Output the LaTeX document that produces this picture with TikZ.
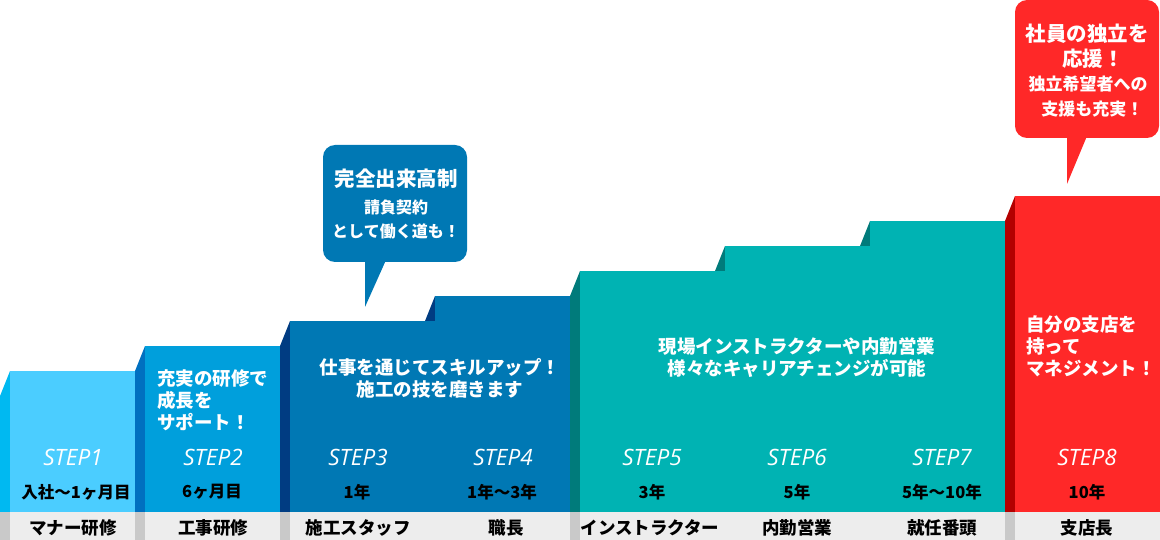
\documentclass[tikz,border=0pt]{standalone}
\usepackage{fontspec}
\setmainfont{Noto Sans CJK JP}
\newfontfamily\stepfont{Open Sans}
\usepackage{tikz}

\definecolor{skyfront}{HTML}{4BCDFF}
\definecolor{skyside}{HTML}{00B9F1}
\definecolor{bluefront}{HTML}{009FDC}
\definecolor{blueside}{HTML}{0070C0}
\definecolor{navyfront}{HTML}{0078B4}
\definecolor{navyside}{HTML}{003C82}
\definecolor{tealfront}{HTML}{00B3B3}
\definecolor{tealside}{HTML}{007B7B}
\definecolor{redfront}{HTML}{FF2828}
\definecolor{redside}{HTML}{B40000}
\definecolor{striplight}{HTML}{EDEDED}
\definecolor{stripdark}{HTML}{C9C9C9}

\begin{document}
\begin{tikzpicture}[x=1pt,y=-1pt,
    steplabel/.style={text=white,font=\stepfont\itshape\fontsize{22.5}{22.5}\selectfont},
    yearlabel/.style={font=\bfseries\fontsize{16.5}{16.5}\selectfont},
    joblabel/.style={font=\bfseries\fontsize{17.5}{17.5}\selectfont},
    msg/.style={text=white,font=\bfseries\fontsize{18.5}{22}\selectfont,inner sep=0pt}]
  \useasboundingbox (0,0) rectangle (1160,540);

  % side faces
  \fill[skyside]  (0,512) -- (0,396) -- (10,371) -- (10,512) -- cycle;
  \fill[blueside] (135,512) -- (135,371) -- (145,346) -- (145,512) -- cycle;
  \fill[navyside] (280,512) -- (280,346) -- (290,321) -- (290,512) -- cycle;
  \fill[navyside] (425,512) -- (425,321) -- (435,296) -- (435,512) -- cycle;
  \fill[tealside] (570,512) -- (570,296) -- (580,271) -- (580,512) -- cycle;
  \fill[tealside] (715,512) -- (715,271) -- (725,246) -- (725,512) -- cycle;
  \fill[tealside] (860,512) -- (860,246) -- (870,221) -- (870,512) -- cycle;
  \fill[redside]  (1005,512) -- (1005,221) -- (1015,196) -- (1015,512) -- cycle;

  % front faces
  \fill[skyfront]  (10,371) rectangle (135,512);
  \fill[bluefront] (145,346) rectangle (280,512);
  \fill[navyfront] (290,321) rectangle (570,512);
  \fill[navyfront] (435,296) rectangle (570,512);
  \fill[tealfront] (580,271) rectangle (1005,512);
  \fill[tealfront] (725,246) rectangle (1005,512);
  \fill[tealfront] (870,221) rectangle (1005,512);
  \fill[redfront]  (1015,196) rectangle (1160,512);

  % strip
  \fill[striplight] (0,512) rectangle (1160,540);
  \fill[stripdark] (0,512) rectangle (10,540);
  \fill[stripdark] (135,512) rectangle (145,540);
  \fill[stripdark] (280,512) rectangle (290,540);
  \fill[stripdark] (570,512) rectangle (580,540);
  \fill[stripdark] (1005,512) rectangle (1015,540);

  % callouts
  \fill[navyfront,rounded corners=12pt] (323,145) rectangle (467,262);
  \fill[navyfront] (365,260) -- (365,307) -- (386,260) -- cycle;
  \fill[redfront,rounded corners=12pt] (1015,0) rectangle (1159,138);
  \fill[redfront] (1067,136) -- (1067,184) -- (1087,136) -- cycle;

  \draw (396,179) node[text=white,font=\bfseries\fontsize{20.5}{20.5}\selectfont] (bub1) {完全出来高制};
  \draw (396,219) node[msg,align=center,font=\bfseries\fontsize{16}{24}\selectfont] (bub2) {請負契約\\として働く道も！};
  \draw (1087,46) node[text=white,align=center,inner sep=0pt,font=\bfseries\fontsize{20.5}{25}\selectfont] (bub3) {社員の独立を\\\hspace{0.6em}応援！};
  \draw (1088,97) node[msg,align=center,font=\bfseries\fontsize{17}{25}\selectfont] (bub4) {独立希望者への\\\hspace{0.5em}支援も充実！};

  % messages
  \draw (157,400) node[msg,align=left,anchor=west] (m2) {充実の研修で\\成長を\\サポート！};
  \draw (440,378) node[msg,align=center] (m3) {仕事を通じてスキルアップ！\\施工の技を磨きます};
  \draw (797,358) node[msg,align=center] (m5) {現場インストラクターや内勤営業\\様々なキャリアチェンジが可能};
  \draw (1026,346) node[msg,align=left,anchor=west] (m8) {自分の支店を\\持って\\マネジメント！};

  % steps
  \draw (73,457) node[steplabel] (s1) {STEP1};
  \draw (213,457) node[steplabel] (s2) {STEP2};
  \draw (358,457) node[steplabel] (s3) {STEP3};
  \draw (503,457) node[steplabel] (s4) {STEP4};
  \draw (652,457) node[steplabel] (s5) {STEP5};
  \draw (797,457) node[steplabel] (s6) {STEP6};
  \draw (942,457) node[steplabel] (s7) {STEP7};
  \draw (1087,457) node[steplabel] (s8) {STEP8};

  \draw (76,492) node[yearlabel] (y1) {入社～1ヶ月目};
  \draw (212,492) node[yearlabel] (y2) {6ヶ月目};
  \draw (357,492) node[yearlabel] (y3) {1年};
  \draw (502,492) node[yearlabel] (y4) {1年～3年};
  \draw (652,492) node[yearlabel] (y5) {3年};
  \draw (797,492) node[yearlabel] (y6) {5年};
  \draw (942,492) node[yearlabel] (y7) {5年～10年};
  \draw (1087,492) node[yearlabel] (y8) {10年};

  \draw (73,528) node[joblabel] (j1) {マナー研修};
  \draw (213,528) node[joblabel] (j2) {工事研修};
  \draw (358,528) node[joblabel] (j3) {施工スタッフ};
  \draw (506,528) node[joblabel] (j4) {職長};
  \draw (650,528) node[joblabel] (j5) {インストラクター};
  \draw (797,528) node[joblabel] (j6) {内勤営業};
  \draw (942,528) node[joblabel] (j7) {就任番頭};
  \draw (1087,528) node[joblabel] (j8) {支店長};
\end{tikzpicture}
\end{document}
